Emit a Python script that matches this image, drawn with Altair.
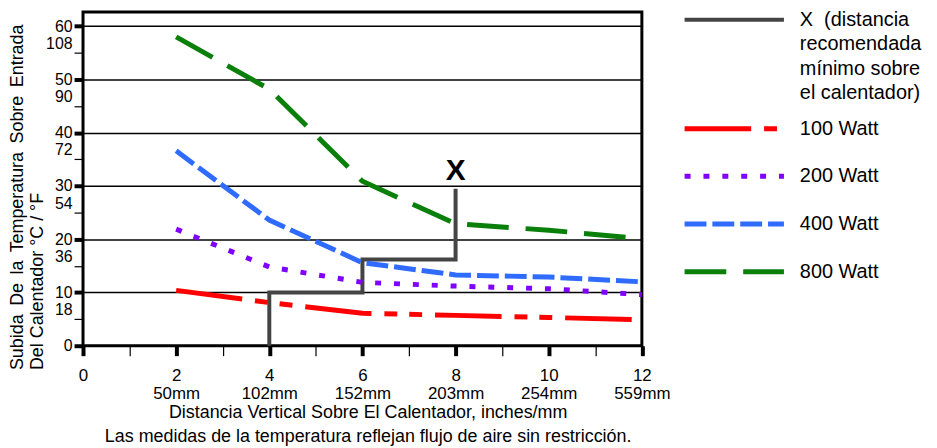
import json
import altair as alt
import pandas as pd

# ---------------- data ----------------
distance_in = [2, 4, 6, 8, 10, 12]
series_names = ["100 Watt", "200 Watt", "400 Watt", "800 Watt"]
rise_100w = [10.4, 8.1, 6.1, 5.7, 5.3, 4.9]
rise_200w = [21.9, 14.8, 11.9, 11.2, 10.7, 9.6]
rise_400w = [36.6, 23.6, 15.6, 13.3, 12.9, 12.0]
rise_800w = [58.0, 48.2, 30.9, 22.9, 21.7, 20.1]

min_dist_x = [4, 4, 6, 6, 8, 8]
min_dist_y = [0, 10, 10, 16.2, 16.2, 29.5]
min_dist_name = "X (distancia recomendada mínimo sobre el calentador)"
min_dist_lines = ["X\u00a0\u00a0(distancia", "recomendada", "mínimo sobre", "el calentador)"]

marker_text = ["X"]
marker_x = [8]
marker_y = [32.9]

x_tick_values = list(range(0, 13))
x_label_pos = [0, 2, 4, 6, 8, 10, 12]
x_label_in = ["0", "2", "4", "6", "8", "10", "12"]
x_label_mm = ["", "50mm", "102mm", "152mm", "203mm", "254mm", "559mm"]

y_c_ticks = [0, 10, 20, 30, 40, 50, 60]
y_f_tick_pos = [5, 15, 25, 35, 45, 55]
y_f_labels = ["18", "36", "54", "72", "90", "108"]

x_title = ["Distancia Vertical Sobre El Calentador, inches/mm",
           "Las medidas de la temperatura reflejan flujo de aire sin restricción."]
y_title_words = ["Subida", "De", "la", "Temperatura", "Sobre", "Entrada"]
y_title_line2 = "Del Calentador °C / °F"

# ---------------- styles ----------------
colors = ["#ff0000", "#7f00ff", "#2f6bff", "#0a7f0a"]
dashes = [[67, 13, 13, 12, 13, 13], [6, 13], [22, 6], [42, 17]]
FONT = "Liberation Sans"

# ---------------- tables ----------------
rows = []
for name, vals in zip(series_names, [rise_100w, rise_200w, rise_400w, rise_800w]):
    for xv, yv in zip(distance_in, vals):
        rows.append({"series": name, "x": xv, "y": yv})
df_lines = pd.DataFrame(rows)

df_x = pd.DataFrame({"x": min_dist_x, "y": min_dist_y,
                     "order": list(range(len(min_dist_x))),
                     "name": [min_dist_name] * len(min_dist_x)})
df_marker = pd.DataFrame({"x": marker_x, "y": marker_y, "t": marker_text})

# ---------------- axes ----------------
x_parts = []
for v, a, b in zip(x_label_pos, x_label_in, x_label_mm):
    lab = [a, b] if b else a
    x_parts.append(f"datum.value === {v} ? {json.dumps(lab, ensure_ascii=False)}")
x_label_expr = " : ".join(x_parts) + " : ''"

y_parts = [f"datum.value === {p} ? '{l}'" for p, l in zip(y_f_tick_pos, y_f_labels)]
y_label_expr = " : ".join(y_parts) + " : datum.label"

y_title = ["\u2009 ".join(y_title_words), y_title_line2]

xs = alt.Scale(domain=[0, 12], nice=False, zero=False)
ys = alt.Scale(domain=[0, 62.7], nice=False, zero=False)

x_axis = alt.Axis(
    values=x_tick_values, labelExpr=x_label_expr, title=x_title,
    domain=False, grid=False, ticks=True, tickColor="black", tickSize=10,
    tickWidth={"condition": {"test": "datum.value % 2 === 0", "value": 4}, "value": 1.2},
    labelFont=FONT, labelFontSize=17, labelColor="black", labelPadding=12,
    labelLineHeight=18, labelFlush=False, labelOverlap=False, labelBaseline="top",
    titleFont=FONT, titleFontSize=18, titleFontWeight="normal", titleColor="black",
    titleLineHeight=24, titleX=286.5, titleY=72.5, titleAlign="center",
    titleBaseline="alphabetic",
)

y_axis = alt.Axis(
    values=sorted(y_c_ticks + y_f_tick_pos), labelExpr=y_label_expr, title=y_title,
    domain=False, grid=True, gridColor="black", gridWidth=1.5,
    gridOpacity={"condition": {"test": "datum.value % 10 === 0 && datum.value > 0", "value": 1}, "value": 0},
    ticks=True, tickColor="black", tickSize=9,
    tickWidth={"condition": {"test": "datum.value % 10 === 0", "value": 4}, "value": 1.2},
    labelFont=FONT, labelFontSize=16, labelColor="black", labelPadding=2,
    labelOffset={"condition": {"test": "datum.value % 10 === 0", "value": 0}, "value": -9.5},
    labelFlush=False, labelOverlap=False,
    titleFont=FONT, titleFontSize=18, titleFontWeight="normal", titleColor="black",
    titleAngle=270, titleAlign="left", titleBaseline="alphabetic",
    titleLineHeight=20, titleX=-60.5, titleY=360,
)

# ---------------- legends ----------------
x_legend_expr = json.dumps(min_dist_lines, ensure_ascii=False)
legend_common = dict(
    title=None, orient="none", legendX=605.5, padding=0,
    symbolType="M-10,0H10", symbolSize=100, symbolOffset=40,
    labelOffset=56, labelFont=FONT, labelFontSize=20, labelFontWeight="normal",
    labelColor="black", labelBaseline="middle", labelLimit=300,
)
x_legend = alt.Legend(legendY=-2, symbolStrokeWidth=4, labelExpr=x_legend_expr,
                      **legend_common)
w_legend = alt.Legend(legendY=107.5, symbolStrokeWidth=5, rowPadding=28, **legend_common)

# ---------------- layers ----------------
x_line = alt.Chart(df_x).mark_line(strokeWidth=4, strokeJoin="miter").encode(
    x=alt.X("x:Q", scale=xs, axis=x_axis),
    y=alt.Y("y:Q", scale=ys, axis=y_axis),
    order="order:Q",
    color=alt.Color("name:N", scale=alt.Scale(domain=[min_dist_name], range=["#444444"]),
                    legend=x_legend),
)

watts = alt.Chart(df_lines).mark_line(strokeWidth=5).encode(
    x=alt.X("x:Q", scale=xs, axis=x_axis),
    y=alt.Y("y:Q", scale=ys, axis=y_axis),
    color=alt.Color("series:N", scale=alt.Scale(domain=series_names, range=colors),
                    legend=w_legend),
    strokeDash=alt.StrokeDash("series:N", scale=alt.Scale(domain=series_names, range=dashes),
                              legend=w_legend),
)

marker = alt.Chart(df_marker).mark_text(
    font=FONT, fontSize=30, fontWeight="bold", color="black",
    baseline="middle", align="center",
).encode(
    x=alt.X("x:Q", scale=xs, axis=x_axis),
    y=alt.Y("y:Q", scale=ys, axis=y_axis),
    text="t:N",
)

chart = (
    alt.layer(x_line, watts, marker)
    .resolve_scale(color="independent", strokeDash="independent")
    .properties(
        width=562.5, height=336,
        autosize=alt.AutoSizeParams(type="none"),
        padding={"left": 75.5, "top": 2.5, "right": 289, "bottom": 100},
        background="white",
    )
    .configure(font=FONT, style={"guide-label": {"lineHeight": 24.7}})
    .configure_view(stroke="black", strokeWidth=3)
)

chart.save("out.html", embed_options={"renderer": "svg", "actions": False})
